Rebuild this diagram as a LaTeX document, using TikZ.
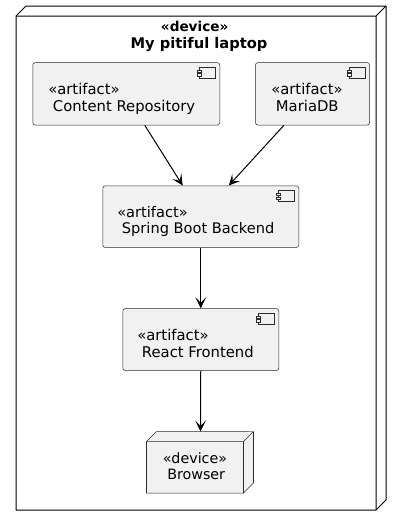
\documentclass[tikz,border=0pt]{standalone}
\usepackage{fontspec}
\setmainfont{DejaVu Sans}
\usetikzlibrary{arrows.meta,calc}
\definecolor{boxfill}{HTML}{F1F1F1}
\definecolor{boxline}{HTML}{2A2A2A}
\tikzset{
  x=0.75pt,y=-0.75pt,
  comp/.style={draw=boxline,fill=boxfill,line width=0.38pt,rounded corners=1.9pt,inner sep=0pt,anchor=north west},
  cube/.style={draw=boxline,line width=0.38pt,fill=boxfill,line join=round},
  outer/.style={draw=black,line width=0.75pt,fill=white,line join=round},
  lab/.style={font=\fontsize{11.1pt}{12.2pt}\selectfont,align=left,inner sep=0pt,anchor=north west,text=black},
  title/.style={font=\fontsize{11pt}{12.2pt}\selectfont\bfseries,align=center,inner sep=0pt,text=black},
  conn/.style={draw=black,line width=0.75pt,-{Stealth[length=8.25pt,width=8pt,inset=4pt]}},
  icon/.style={draw=boxline,line width=0.38pt,fill=boxfill},
}
\newcommand{\compicon}[1]{%
  \path[icon] ($(#1.north east)+(-21,5)$) rectangle ++(16.5,10.5);
  \path[icon] ($(#1.north east)+(-23,7.5)$) rectangle ++(4.5,2.2);
  \path[icon] ($(#1.north east)+(-23,11.3)$) rectangle ++(4.5,2.2);
}
\begin{document}
\begin{tikzpicture}
\useasboundingbox (0,0) rectangle (401,526);
\path[fill=white] (0,0) rectangle (401,526);
% outer device
\path[outer] (16,16) -- (26,6) -- (386,6) -- (386,500) -- (376,510) -- (16,510) -- cycle;
\draw[black,line width=0.75pt] (16,16) -- (376,16) -- (386,6) (376,16) -- (376,510);
\node[title] (laptop) at (199,36.5) {{\fontsize{10.2pt}{12.2pt}\selectfont «device»\kern6.5pt}\\My pitiful laptop};
% components
\node[comp,minimum width=140.25pt,minimum height=46.9pt] (content) at (32.5,62.3) {};
\node[comp,minimum width=85.6pt,minimum height=46.9pt] (maria) at (255.2,62.3) {};
\node[comp,minimum width=147pt,minimum height=46.3pt] (spring) at (102.5,185.5) {};
\node[comp,minimum width=117pt,minimum height=46.5pt] (react) at (122.5,308.3) {};
\compicon{content}\compicon{maria}\compicon{spring}\compicon{react}
\node[lab] (contentlab) at (48,83.3) {«artifact»\\\ Content Repository};
\node[lab] (marialab) at (271,83.3) {«artifact»\\\ MariaDB};
\node[lab,font=\fontsize{10.95pt}{12.2pt}\selectfont] (springlab) at (117,206.3) {«artifact»\\\ Spring Boot Backend};
\node[lab] (reactlab) at (137,329.3) {«artifact»\\\ React Frontend};
% browser
\path[cube] (146.5,441.5) -- (156.5,431.5) -- (253.5,431.5) -- (253.5,483) -- (243.5,493) -- (146.5,493) -- cycle;
\path[cube] (146.5,441.5) -- (243.5,441.5) -- (253.5,431.5) (243.5,441.5) -- (243.5,493);
\coordinate (browserS) at (200.5,431.5);
\node[lab,font=\fontsize{10.7pt}{12.2pt}\selectfont] (browserlab) at (162.5,452.3) {«device»\\\ Browser};
% connectors
\draw[conn] ($(content.south west)!0.599!(content.south east)$) -- ($(spring.north west)!0.408!(spring.north east)$);
\draw[conn] ($(maria.south west)!0.25!(maria.south east)$) -- ($(spring.north west)!0.643!(spring.north east)$);
\draw[conn] (spring.south) -- (react.north);
\draw[conn] (react.south) -- (browserS);
\end{tikzpicture}
\end{document}
